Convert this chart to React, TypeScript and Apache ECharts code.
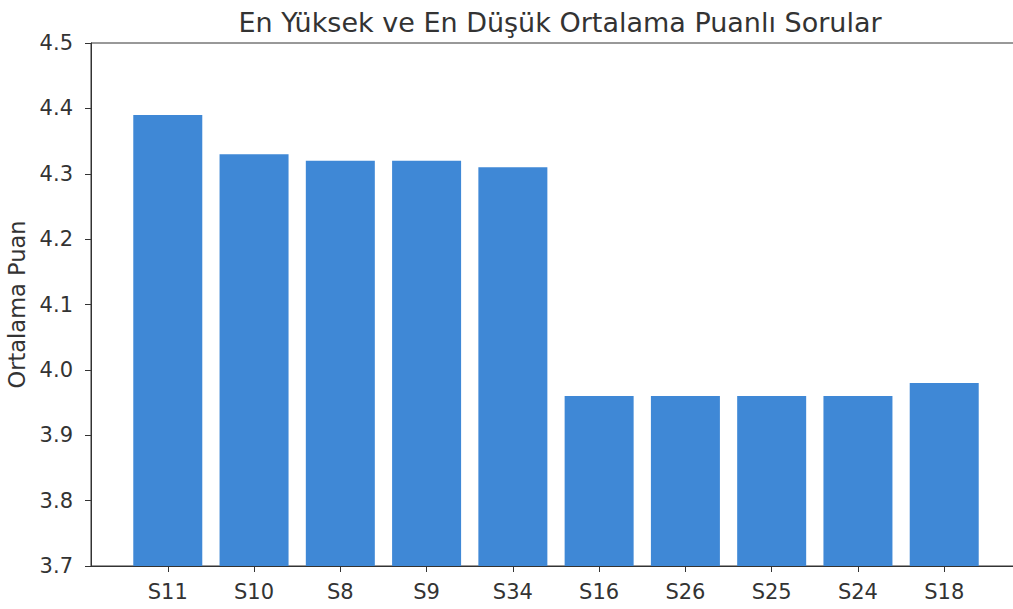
import React, { useEffect, useRef } from "react";
import * as echarts from "echarts";

const categories = ["S11", "S10", "S8", "S9", "S34", "S16", "S26", "S25", "S24", "S18"];
const values = [4.39, 4.33, 4.32, 4.32, 4.31, 3.96, 3.96, 3.96, 3.96, 3.98];

export default function App() {
  const ref = useRef<HTMLDivElement>(null);
  useEffect(() => {
    if (!ref.current) return;
    const chart = echarts.init(ref.current, null, { renderer: "svg" });
    const idx = categories.map((_, i) => i);
    const font = "DejaVu Sans";
    chart.setOption({
      animation: false,
      backgroundColor: "#fff",
      title: {
        text: "En Yüksek ve En Düşük Ortalama Puanlı Sorular",
        left: 555,
        textAlign: "center",
        top: 4,
        textStyle: { fontFamily: font, fontSize: 27, fontWeight: "normal", color: "#333" },
      },
      grid: {
        left: 91,
        top: 43,
        width: 930,
        height: 523,
        outerBoundsMode: "none",
        containLabel: false,
        show: true,
        borderColor: "#333",
        borderWidth: 1,
        backgroundColor: "transparent",
      },
      xAxis: {
        type: "value",
        min: -0.89,
        max: 9.89,
        splitLine: { show: false },
        axisLine: { show: true, onZero: false, lineStyle: { color: "#333", width: 1 } },
        axisTick: { show: true, length: 6, customValues: idx, lineStyle: { color: "#333" } },
        axisLabel: {
          customValues: idx,
          formatter: (v: number) => categories[Math.round(v)] ?? "",
          fontFamily: font,
          fontSize: 21,
          color: "#333",
          margin: 15,
        },
      },
      yAxis: {
        type: "value",
        min: 3.7,
        max: 4.5,
        interval: 0.1,
        name: "Ortalama Puan",
        nameLocation: "middle",
        nameGap: 63,
        nameTextStyle: { fontFamily: font, fontSize: 22.5, color: "#333" },
        splitLine: { show: false },
        axisLine: { show: true, onZero: false, lineStyle: { color: "#333", width: 1 } },
        axisTick: { show: true, length: 6, lineStyle: { color: "#333" } },
        axisLabel: {
          formatter: (v: number) => v.toFixed(1),
          fontFamily: font,
          fontSize: 21,
          color: "#333",
          margin: 18,
        },
      },
      series: [
        {
          type: "bar",
          data: values.map((v, i) => [i, v]),
          barWidth: 69,
          itemStyle: { color: "#3f88d6" },
        },
      ],
    });
    return () => chart.dispose();
  }, []);
  return (
    <div
      ref={ref}
      style={{ position: "fixed", left: 0, top: 0, width: 1013, height: 609 }}
    />
  );
}
